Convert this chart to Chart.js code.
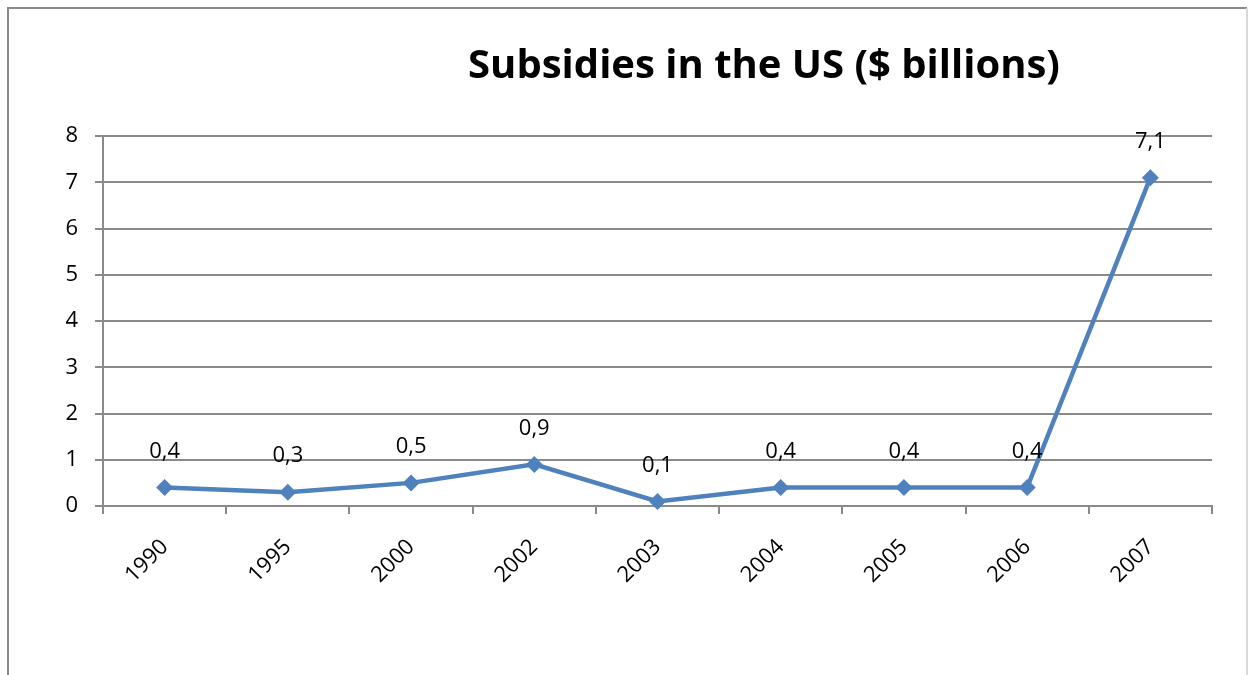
<!DOCTYPE html>
<html>
<head>
<meta charset="utf-8">
<script src="https://cdn.jsdelivr.net/npm/chart.js@4"></script>
<style>
  html, body { margin: 0; padding: 0; background: #fff; }
  #wrap { position: relative; width: 1249px; height: 675px; }
</style>
</head>
<body>
<div id="wrap"><canvas id="chart" width="1249" height="675"></canvas></div>
<script>
const YEARS = ['1990', '1995', '2000', '2002', '2003', '2004', '2005', '2006', '2007'];
const SUBSIDIES = [0.4, 0.3, 0.5, 0.9, 0.1, 0.4, 0.4, 0.4, 7.1];
const Y_TICKS = [0, 1, 2, 3, 4, 5, 6, 7, 8];
const TITLE = 'Subsidies in the US ($ billions)';

const FONT = '"Open Sans", Lato, sans-serif';
const LINE_BLUE = '#4F81BD';
const AXIS_GREY = '#8a8a8a';

// outer frame + title, drawn straight on the canvas
const framePlugin = {
  id: 'frame',
  beforeDraw(chart) {
    const { ctx } = chart;
    ctx.save();
    ctx.strokeStyle = AXIS_GREY;
    ctx.lineWidth = 2;
    ctx.beginPath();
    ctx.moveTo(8, 675);
    ctx.lineTo(8, 8);
    ctx.lineTo(1247, 8);
    ctx.stroke();
    ctx.strokeStyle = '#d9d9d9';
    ctx.beginPath();
    ctx.moveTo(1247, 8);
    ctx.lineTo(1247, 675);
    ctx.stroke();
    ctx.restore();
  },
  afterDraw(chart) {
    const { ctx } = chart;
    ctx.save();
    ctx.fillStyle = '#000';
    ctx.font = 'bold 40px ' + FONT;
    ctx.textAlign = 'center';
    ctx.textBaseline = 'middle';
    ctx.fillText(TITLE, 764, 67);
    ctx.restore();
  },
};

// value labels above each point, decimal comma
const valueLabels = {
  id: 'valueLabels',
  afterDatasetsDraw(chart) {
    const { ctx } = chart;
    const meta = chart.getDatasetMeta(0);
    ctx.save();
    ctx.fillStyle = '#000';
    ctx.font = '22px ' + FONT;
    ctx.textAlign = 'center';
    ctx.textBaseline = 'middle';
    meta.data.forEach((pt, i) => {
      const txt = SUBSIDIES[i].toFixed(1).replace('.', ',');
      ctx.fillText(txt, pt.x, pt.y - 36);
    });
    ctx.restore();
  },
};

new Chart(document.getElementById('chart'), {
  type: 'line',
  data: {
    labels: YEARS,
    datasets: [{
      data: SUBSIDIES,
      borderColor: LINE_BLUE,
      backgroundColor: LINE_BLUE,
      borderWidth: 4.5,
      pointStyle: 'rectRot',
      pointRadius: 8.5,
      pointBorderWidth: 0,
      pointBackgroundColor: LINE_BLUE,
      tension: 0,
      clip: false,
    }],
  },
  options: {
    responsive: false,
    animation: false,
    layout: { padding: { left: 0, right: 37, top: 136, bottom: 0 } },
    plugins: {
      legend: { display: false },
      title: { display: false },
      tooltip: { enabled: false },
    },
    scales: {
      x: {
        offset: true,
        grid: {
          offset: true,
          drawOnChartArea: false,
          tickLength: 8,
          color: AXIS_GREY,
          lineWidth: 2,
        },
        border: { color: AXIS_GREY, width: 2 },
        ticks: {
          color: '#000',
          font: { family: FONT, size: 22 },
          maxRotation: 45,
          minRotation: 45,
          padding: 20,
        },
        afterFit(scale) { scale.height = 169; },
      },
      y: {
        min: 0,
        max: 8,
        afterBuildTicks(scale) { scale.ticks = Y_TICKS.map(v => ({ value: v })); },
        grid: { tickLength: 8, color: AXIS_GREY, lineWidth: 2 },
        border: { color: AXIS_GREY, width: 2 },
        ticks: {
          color: '#000',
          font: { family: FONT, size: 22 },
          padding: 17,
        },
        afterFit(scale) { scale.width = 103; },
      },
    },
  },
  plugins: [framePlugin, valueLabels],
});
</script>
</body>
</html>
